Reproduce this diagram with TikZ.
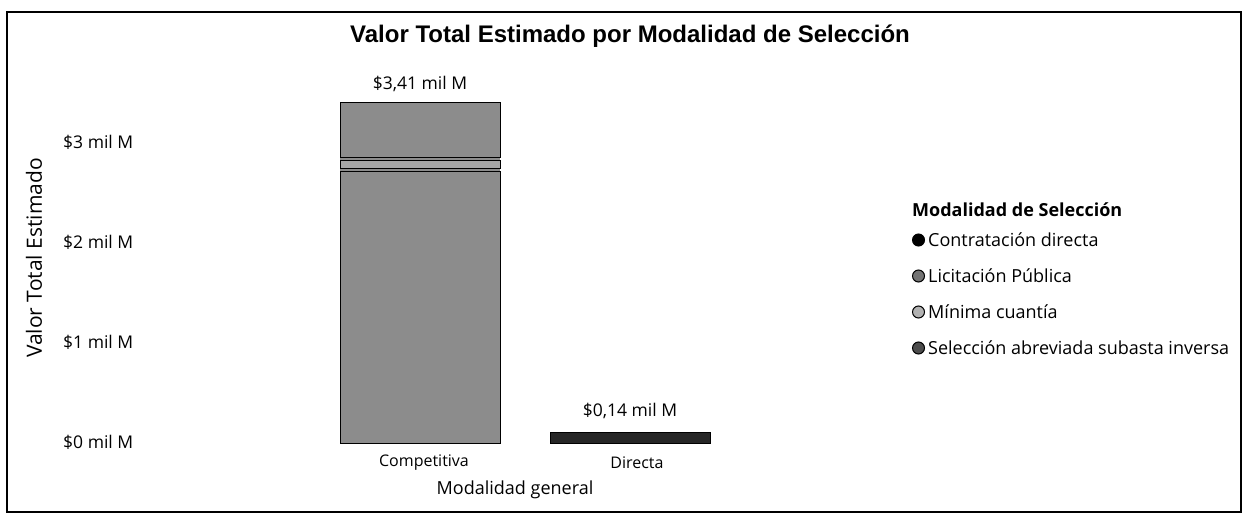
\documentclass[tikz,border=0pt]{standalone}
\usepackage{fontspec}
\setmainfont{Open Sans}
\newfontfamily\titlefont{Liberation Sans}
\begin{document}
\begin{tikzpicture}[x=1pt,y=-1pt,
  tick/.style={anchor=west,inner sep=0pt,font=\fontsize{17.5}{20}\selectfont},
  axlab/.style={font=\fontsize{18}{21}\selectfont},
  barlab/.style={font=\fontsize{17.5}{20}\selectfont},
  catlab/.style={font=\fontsize{16}{19}\selectfont},
  legitem/.style={anchor=west,font=\fontsize{18}{21}\selectfont,inner sep=0pt},
  segA/.style={fill=black!45,draw=black,line width=1pt},
  segB/.style={fill=black!35,draw=black,line width=0.6pt},
  legdot/.style={circle,minimum size=12pt,inner sep=0pt,draw=black,line width=1pt}]
\useasboundingbox (0,0) rectangle (1248,517);
\fill[white] (0,0) rectangle (1248,517);
\draw[line width=1.2pt] (7,12) rectangle (1241,512);
% title
\node[font=\titlefont\bfseries\fontsize{24}{28}\selectfont] (title) at (630,36) {Valor Total Estimado por Modalidad de Selección};
% y axis
\node[axlab,rotate=90,font=\fontsize{21}{24}\selectfont] (ylab) at (34,258) {Valor Total Estimado};
\node[tick] (t3) at (63,142) {\$3 mil M};
\node[tick] (t2) at (63,242) {\$2 mil M};
\node[tick] (t1) at (63,342) {\$1 mil M};
\node[tick] (t0) at (63,442) {\$0 mil M};
% bars
\fill[black!45] (340,102) rectangle (500,443);
\draw[segA] (340,171) rectangle (500,443);
\draw[segB] (340,160) rectangle (500,168);
\draw[segA] (340,102) rectangle (500,157);
\node[barlab] (vC) at (420,84) {\$3,41 mil M};
\draw[fill=black!85,draw=black,line width=1pt] (550,432) rectangle (710,443);
\node[barlab] (vD) at (630,411) {\$0,14 mil M};
\node[catlab] (cC) at (424,463) {Competitiva};
\node[catlab] (cD) at (637,463) {Directa};
\node[axlab] (xlab) at (515,490) {Modalidad general};
% legend
\node[anchor=west,font=\bfseries\fontsize{18}{21}\selectfont,inner sep=0pt] (legt) at (912,210) {Modalidad de Selección};
\node[legdot,fill=black] (m1) at (918.5,240) {};
\node[legitem] (l1) at (928,240) {Contratación directa};
\node[legdot,fill=black!55] (m2) at (918.5,276) {};
\node[legitem] (l2) at (928,276) {Licitación Pública};
\node[legdot,fill=black!30] (m3) at (918.5,312) {};
\node[legitem] (l3) at (928,312) {Mínima cuantía};
\node[legdot,fill=black!70] (m4) at (918.5,348) {};
\node[legitem] (l4) at (928,348) {Selección abreviada subasta inversa};
\end{tikzpicture}
\end{document}
